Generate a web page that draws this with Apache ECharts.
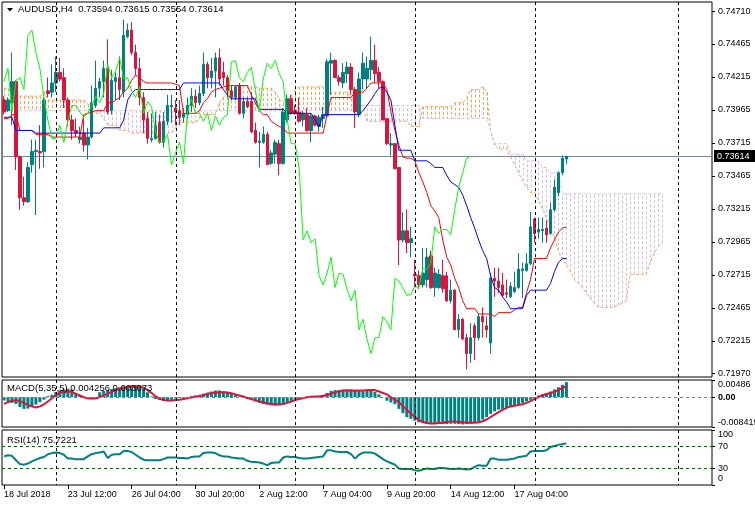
<!DOCTYPE html>
<html><head><meta charset="utf-8">
<script src="https://cdn.jsdelivr.net/npm/echarts@6/dist/echarts.min.js"></script>
<style>html,body{margin:0;padding:0;background:#fff;}#c{width:755px;height:506px;}</style>
</head><body><div id="c"></div>
<script>
const symbolName = 'AUDUSD,H4';
const opens = [
0.7404,0.7396,0.7402,0.7418,0.7361,0.7330,0.7327,0.7355,0.7365,0.7365,
0.7365,0.7411,0.7410,0.7417,0.7425,0.7421,0.7404,0.7389,0.7381,0.7374,
0.7379,0.7370,0.7376,0.7400,0.7413,0.7418,0.7428,0.7396,0.7418,0.7421,
0.7410,0.7452,0.7457,0.7440,0.7428,0.7406,0.7390,0.7374,0.7375,0.7387,
0.7372,0.7388,0.7399,0.7398,0.7396,0.7391,0.7393,0.7400,0.7407,0.7402,
0.7409,0.7431,0.7421,0.7426,0.7436,0.7425,0.7421,0.7411,0.7406,0.7415,
0.7394,0.7403,0.7403,0.7381,0.7372,0.7372,0.7378,0.7356,0.7363,0.7371,
0.7356,0.7389,0.7405,0.7396,0.7395,0.7389,0.7393,0.7381,0.7392,0.7384,
0.7390,0.7392,0.7432,0.7434,0.7421,0.7417,0.7424,0.7429,0.7412,0.7393,
0.7420,0.7420,0.7427,0.7434,0.7425,0.7418,0.7390,0.7370,0.7371,0.7353,
0.7298,0.7305,0.7296,0.7272,0.7271,0.7264,0.7268,0.7286,0.7262,0.7262,
0.7271,0.7271,0.7252,0.7260,0.7230,0.7238,0.7224,0.7212,0.7233,0.7224,
0.7240,0.7233,0.7220,0.7269,0.7267,0.7264,0.7258,0.7255,0.7259,0.7262,
0.7275,0.7275,0.7280,0.7314,0.7304,0.7305,0.7307,0.7303,0.7321,0.7334,
0.7349,0.73594];
const highs = [
0.7407,0.7406,0.7440,0.7419,0.7362,0.7346,0.7357,0.7374,0.7374,0.7385,
0.7406,0.7421,0.7431,0.7437,0.7436,0.7428,0.7406,0.7393,0.7390,0.7384,
0.7390,0.7383,0.7415,0.7434,0.7421,0.7434,0.7450,0.7427,0.7425,0.7437,
0.7465,0.7462,0.7463,0.7446,0.7436,0.7410,0.7395,0.7394,0.7395,0.7393,
0.7395,0.7408,0.7408,0.7404,0.7404,0.7398,0.7406,0.7413,0.7412,0.7415,
0.7440,0.7433,0.7436,0.7440,0.7443,0.7433,0.7423,0.7415,0.7415,0.7417,
0.7406,0.7406,0.7410,0.7387,0.7380,0.7384,0.7380,0.7366,0.7374,0.7374,
0.7398,0.7408,0.7408,0.7400,0.7406,0.7396,0.7398,0.7394,0.7393,0.7393,
0.7399,0.7435,0.7440,0.7435,0.7423,0.7432,0.7433,0.7432,0.7414,0.7425,
0.7440,0.7437,0.7452,0.7446,0.7429,0.7419,0.7390,0.7379,0.7371,0.7353,
0.7319,0.7321,0.7308,0.7283,0.7275,0.7292,0.7292,0.7290,0.7277,0.7276,
0.7283,0.7274,0.7268,0.7261,0.7242,0.7239,0.7227,0.7235,0.7235,0.7242,
0.7247,0.7240,0.7273,0.7277,0.7277,0.7273,0.7268,0.7266,0.7274,0.7288,
0.7281,0.7288,0.7319,0.7315,0.7315,0.7315,0.7313,0.7326,0.7344,0.7350,
0.7362,0.73615];
const lows = [
0.7393,0.7395,0.7385,0.7351,0.7321,0.7324,0.7326,0.7349,0.7317,0.7352,
0.7353,0.7406,0.7406,0.7410,0.7418,0.7398,0.7384,0.7374,0.7376,0.7371,
0.7365,0.7359,0.7375,0.7398,0.7406,0.7406,0.7393,0.7393,0.7404,0.7404,
0.7406,0.7451,0.7438,0.7423,0.7400,0.7379,0.7371,0.7372,0.7374,0.7371,
0.7368,0.7385,0.7387,0.7385,0.7385,0.7387,0.7390,0.7395,0.7398,0.7400,
0.7407,0.7413,0.7413,0.7406,0.7415,0.7415,0.7406,0.7404,0.7404,0.7393,
0.7390,0.7398,0.7379,0.7371,0.7353,0.7371,0.7355,0.7355,0.7356,0.7347,
0.7355,0.7387,0.7393,0.7393,0.7387,0.7384,0.7380,0.7372,0.7384,0.7380,
0.7383,0.7391,0.7408,0.7421,0.7415,0.7413,0.7417,0.7408,0.7383,0.7391,
0.7412,0.7413,0.7419,0.7417,0.7413,0.7389,0.7370,0.7362,0.7352,0.7279,
0.7296,0.7288,0.7285,0.7262,0.7261,0.7262,0.7262,0.7261,0.7255,0.7261,
0.7258,0.7251,0.7250,0.7230,0.7224,0.7222,0.7200,0.7205,0.7207,0.7222,
0.7224,0.7224,0.7212,0.7255,0.7258,0.7255,0.7254,0.7254,0.7258,0.7261,
0.7254,0.7274,0.7279,0.7296,0.7299,0.7296,0.7296,0.7302,0.7320,0.7331,
0.7347,0.73554];
const closes = [
0.7395,0.7404,0.7418,0.7361,0.7330,0.7327,0.7353,0.7365,0.7366,0.7364,
0.7404,0.7409,0.7417,0.7425,0.7420,0.7404,0.7389,0.7381,0.7379,0.7376,
0.7370,0.7376,0.7402,0.7413,0.7418,0.7428,0.7395,0.7419,0.7421,0.7412,
0.7453,0.7457,0.7440,0.7428,0.7406,0.7389,0.7375,0.7375,0.7385,0.7372,
0.7388,0.7400,0.7400,0.7395,0.7391,0.7394,0.7400,0.7407,0.7402,0.7409,
0.7431,0.7421,0.7426,0.7436,0.7420,0.7421,0.7411,0.7406,0.7414,0.7394,
0.7403,0.7399,0.7380,0.7372,0.7373,0.7378,0.7355,0.7364,0.7372,0.7356,
0.7395,0.7405,0.7394,0.7394,0.7388,0.7394,0.7381,0.7392,0.7385,0.7391,
0.7393,0.7433,0.7434,0.7421,0.7418,0.7425,0.7429,0.7412,0.7395,0.7420,
0.7432,0.7428,0.7434,0.7424,0.7418,0.7389,0.7371,0.7371,0.7352,0.7298,
0.7305,0.7296,0.7299,0.7271,0.7264,0.7273,0.7285,0.7262,0.7273,0.7272,
0.7261,0.7252,0.7260,0.7230,0.7238,0.7223,0.7212,0.7224,0.7224,0.7240,
0.7236,0.7230,0.7269,0.7267,0.7262,0.7256,0.7257,0.7263,0.7262,0.7276,
0.7276,0.7280,0.7308,0.7303,0.7306,0.7306,0.7302,0.7321,0.7338,0.7349,
0.7360,0.73614];
const tenkan = [
0.7390,0.7390,0.7393,0.7393,0.7381,0.7381,0.7381,0.7381,0.7378,0.7378,
0.7378,0.7378,0.7376,0.7376,0.7376,0.7376,0.7376,0.7376,0.7376,0.7376,
0.7393,0.7394,0.7395,0.7396,0.7396,0.7396,0.7402,0.7402,0.7404,0.7406,
0.7410,0.7413,0.7419,0.7423,0.7421,0.7418,0.7417,0.7417,0.7417,0.7417,
0.7417,0.7417,0.7417,0.7416,0.7415,0.7394,0.7394,0.7394,0.7394,0.7396,
0.7402,0.7405,0.7410,0.7412,0.7413,0.7414,0.7415,0.7415,0.7415,0.7415,
0.7415,0.7415,0.7408,0.7402,0.7396,0.7393,0.7393,0.7388,0.7386,0.7384,
0.7383,0.7379,0.7379,0.7379,0.7379,0.7379,0.7379,0.7379,0.7379,0.7379,
0.7379,0.7393,0.7406,0.7406,0.7406,0.7406,0.7406,0.7406,0.7410,0.7410,
0.7410,0.7413,0.7417,0.7417,0.7417,0.7417,0.7412,0.7395,0.7381,0.7370,
0.7361,0.7360,0.7360,0.7358,0.7349,0.7342,0.7334,0.7324,0.7320,0.7315,
0.7298,0.7285,0.7279,0.7269,0.7262,0.7252,0.7246,0.7246,0.7246,0.7242,
0.7242,0.7242,0.7242,0.7240,0.7243,0.7243,0.7243,0.7243,0.7245,0.7247,
0.7247,0.7258,0.7268,0.7284,0.7284,0.7284,0.7284,0.7292,0.7298,0.7304,
0.7307,0.7308];
const kijun = [
0.7391,0.7391,0.7391,0.7381,0.7381,0.7381,0.7381,0.7381,0.7379,0.7379,
0.7379,0.7379,0.7379,0.7379,0.7379,0.7379,0.7379,0.7379,0.7379,0.7379,
0.7379,0.7379,0.7379,0.7379,0.7379,0.7383,0.7383,0.7383,0.7383,0.7383,
0.7389,0.7404,0.7409,0.7412,0.7412,0.7412,0.7412,0.7412,0.7412,0.7412,
0.7412,0.7412,0.7412,0.7412,0.7412,0.7417,0.7417,0.7417,0.7417,0.7417,
0.7417,0.7417,0.7417,0.7417,0.7417,0.7412,0.7408,0.7405,0.7405,0.7405,
0.7405,0.7405,0.7405,0.7405,0.7397,0.7397,0.7397,0.7397,0.7397,0.7397,
0.7397,0.7394,0.7394,0.7394,0.7394,0.7394,0.7394,0.7394,0.7389,0.7384,
0.7393,0.7393,0.7393,0.7393,0.7393,0.7393,0.7393,0.7393,0.7393,0.7393,
0.7396,0.7400,0.7404,0.7409,0.7413,0.7414,0.7410,0.7404,0.7385,0.7366,
0.7366,0.7366,0.7366,0.7358,0.7358,0.7358,0.7358,0.7356,0.7353,0.7353,
0.7353,0.7347,0.7342,0.7340,0.7338,0.7332,0.7324,0.7315,0.7307,0.7298,
0.7290,0.7284,0.7271,0.7262,0.7260,0.7255,0.7251,0.7246,0.7246,0.7246,
0.7246,0.7256,0.7260,0.7260,0.7260,0.7260,0.7260,0.7265,0.7274,0.7281,
0.7284,0.7284];
const spanA = [
0.7413,0.7413,0.7407,0.7407,0.7407,0.7407,0.7407,0.7407,0.7407,0.7407,
0.7410,0.7404,0.7404,0.7404,0.7404,0.7404,0.7404,0.7404,0.7404,0.7404,
0.7404,0.7401,0.7396,0.7394,0.7394,0.7390,0.7385,0.7385,0.7385,0.7381,
0.7381,0.7381,0.7379,0.7379,0.7379,0.7379,0.7379,0.7379,0.7379,0.7379,
0.7379,0.7379,0.7379,0.7383,0.7387,0.7387,0.7387,0.7387,0.7387,0.7390,
0.7393,0.7393,0.7393,0.7393,0.7402,0.7406,0.7410,0.7415,0.7415,0.7415,
0.7415,0.7415,0.7414,0.7414,0.7413,0.7413,0.7413,0.7413,0.7410,0.7405,
0.7402,0.7404,0.7407,0.7412,0.7414,0.7414,0.7414,0.7414,0.7414,0.7414,
0.7414,0.7410,0.7410,0.7410,0.7410,0.7410,0.7410,0.7405,0.7405,0.7400,
0.7400,0.7388,0.7388,0.7388,0.7388,0.7388,0.7388,0.7388,0.7388,0.7388,
0.7388,0.7388,0.7384,0.7384,0.7384,0.7399,0.7399,0.7399,0.7399,0.7399,
0.7399,0.7399,0.7399,0.7402,0.7402,0.7402,0.7406,0.7412,0.7412,0.7412,
0.7414,0.7410,0.7381,0.7370,0.7367,0.7367,0.7367,0.7361,0.7355,0.7349,
0.7343,0.7338,0.7334,0.7334,0.7328,0.7322,0.7315,0.7307,0.7299,0.7290,
0.7283,0.7279,0.7274,0.7268,0.7265,0.7262,0.7258,0.7254,0.7250,0.7247,
0.7247,0.7247,0.7247,0.7247,0.7249,0.7250,0.7252,0.7272,0.7272,0.7272,
0.7272,0.7272,0.7281,0.7288,0.7293,0.7296];
const spanB = [
0.7396,0.7396,0.7396,0.7396,0.7396,0.7396,0.7396,0.7396,0.7396,0.7396,
0.7396,0.7396,0.7396,0.7396,0.7396,0.7396,0.7396,0.7396,0.7396,0.7396,
0.7396,0.7396,0.7396,0.7396,0.7396,0.7396,0.7396,0.7396,0.7396,0.7396,
0.7396,0.7396,0.7396,0.7396,0.7396,0.7396,0.7396,0.7396,0.7396,0.7396,
0.7396,0.7396,0.7396,0.7396,0.7396,0.7396,0.7396,0.7396,0.7396,0.7396,
0.7396,0.7396,0.7396,0.7396,0.7396,0.7396,0.7396,0.7396,0.7396,0.7396,
0.7396,0.7396,0.7396,0.7396,0.7396,0.7396,0.7396,0.7396,0.7396,0.7396,
0.7396,0.7396,0.7396,0.7396,0.7396,0.7396,0.7396,0.7396,0.7396,0.7396,
0.7396,0.7396,0.7396,0.7396,0.7396,0.7396,0.7396,0.7396,0.7396,0.7400,
0.7400,0.7400,0.7400,0.7400,0.7400,0.7400,0.7400,0.7400,0.7400,0.7400,
0.7400,0.7400,0.7400,0.7400,0.7400,0.7390,0.7390,0.7390,0.7390,0.7390,
0.7390,0.7390,0.7390,0.7390,0.7390,0.7390,0.7390,0.7390,0.7390,0.7390,
0.7390,0.7390,0.7381,0.7371,0.7371,0.7371,0.7371,0.7363,0.7363,0.7363,
0.7363,0.7358,0.7358,0.7358,0.7358,0.7353,0.7353,0.7349,0.7349,0.7349,
0.7333,0.7333,0.7333,0.7333,0.7333,0.7333,0.7333,0.7333,0.7333,0.7333,
0.7333,0.7333,0.7333,0.7333,0.7333,0.7333,0.7333,0.7333,0.7333,0.7333,
0.7333,0.7333,0.7333,0.7333,0.7333,0.7333];
const chikouShift = 24;
const macdMain = [
-0.0009,-0.0012,-0.0016,-0.0019,-0.0028,-0.0033,-0.0032,-0.0025,-0.0021,-0.0014,
-0.0007,0.0003,0.0007,0.0015,0.0019,0.0022,0.0024,0.0022,0.0010,0.0004,
0.0000,-0.0003,-0.0002,0.0000,0.0014,0.0018,0.0020,0.0023,0.0025,0.0028,
0.0030,0.0032,0.0033,0.0032,0.0030,0.0025,0.0014,0.0002,-0.0005,-0.0008,
-0.0010,-0.0009,-0.0007,-0.0004,-0.0003,-0.0001,0.0001,0.0003,0.0005,0.0007,
0.0010,0.0013,0.0016,0.0019,0.0019,0.0017,0.0015,0.0012,0.0006,0.0002,
-0.0002,-0.0005,-0.0008,-0.0012,-0.0016,-0.0019,-0.0021,-0.0023,-0.0024,-0.0023,
-0.0020,-0.0016,-0.0010,-0.0005,-0.0002,0.0000,0.0001,0.0002,0.0003,0.0004,
0.0006,0.0012,0.0018,0.0020,0.0020,0.0021,0.0022,0.0022,0.0021,0.0020,
0.0020,0.0021,0.0022,0.0015,0.0008,0.0000,-0.0010,-0.0015,-0.0020,-0.0033,
-0.0045,-0.0056,-0.0061,-0.0066,-0.0071,-0.0073,-0.0075,-0.0076,-0.0076,-0.0075,
-0.0076,-0.0076,-0.0075,-0.0075,-0.0076,-0.0077,-0.0076,-0.0075,-0.0073,-0.0069,
-0.0063,-0.0056,-0.0047,-0.0040,-0.0035,-0.0033,-0.0030,-0.0028,-0.0024,-0.0020,
-0.0016,-0.0012,-0.0007,-0.0002,0.0005,0.0009,0.0012,0.0016,0.0022,0.0028,
0.0035,0.004256];
const macdSignal = [
-0.0019,-0.0014,-0.0010,-0.0009,-0.0011,-0.0016,-0.0022,-0.0026,-0.0029,-0.0026,
-0.0020,-0.0012,-0.0003,0.0006,0.0012,0.0016,0.0017,0.0015,0.0010,0.0005,
0.0000,-0.0003,-0.0004,-0.0003,0.0000,0.0005,0.0010,0.0015,0.0020,0.0024,
0.0027,0.0029,0.0030,0.0031,0.0030,0.0027,0.0020,0.0012,0.0002,-0.0004,
-0.0008,-0.0009,-0.0009,-0.0008,-0.0007,-0.0005,-0.0003,-0.0001,0.0001,0.0003,
0.0006,0.0009,0.0012,0.0013,0.0014,0.0014,0.0013,0.0011,0.0008,0.0005,
0.0002,-0.0002,-0.0005,-0.0009,-0.0012,-0.0015,-0.0018,-0.0019,-0.0020,-0.0020,
-0.0019,-0.0016,-0.0012,-0.0008,-0.0005,-0.0002,0.0000,0.0001,0.0002,0.0002,
0.0004,0.0006,0.0010,0.0014,0.0017,0.0019,0.0019,0.0019,0.0018,0.0019,
0.0019,0.0020,0.0020,0.0020,0.0016,0.0012,0.0008,0.0000,-0.0007,-0.0014,
-0.0025,-0.0036,-0.0046,-0.0056,-0.0064,-0.0070,-0.0073,-0.0074,-0.0074,-0.0073,
-0.0072,-0.0070,-0.0069,-0.0069,-0.0070,-0.0071,-0.0072,-0.0072,-0.0072,-0.0071,
-0.0068,-0.0063,-0.0056,-0.0049,-0.0042,-0.0036,-0.0030,-0.0026,-0.0024,-0.0022,
-0.0020,-0.0016,-0.0011,-0.0005,0.0000,0.0005,0.0009,0.0012,0.0015,0.0020,
0.0026,0.003073];
const rsi = [
52,54,53,45,38,37,39,43,46,49,
51,56,58,59,58,55,48,48,47,47,
47,52,56,58,59,61,49,55,56,56,
62,62,60,55,50,46,45,45,45,45,
47,50,50,50,49,49,48,51,52,52,
58,59,59,58,54,52,52,50,49,48,
48,44,42,42,41,39,36,40,41,41,
50,52,51,51,49,48,48,49,50,51,
52,63,63,61,60,60,60,56,48,55,
59,59,59,57,52,47,43,40,37,30,
29,29,29,27,26,28,30,29,29,31,
31,30,29,29,30,29,28,29,33,36,
35,35,48,48,46,46,46,47,48,51,
52,53,61,62,62,62,63,69,71,73,
74,75.7221];
const priceTicks = [0.74710,0.74465,0.74215,0.73965,0.73715,0.73465,0.73215,0.72965,0.72715,0.72465,0.72215,0.71970];
const priceAxisMin = 0.719423, priceAxisMax = 0.747832;
const macdTicks = [0.00486, 0, -0.008419];
const rsiTicks = [100, 70, 30, 0];
const timeLabels = ['18 Jul 2018','23 Jul 12:00','26 Jul 04:00','30 Jul 20:00','2 Aug 12:00','7 Aug 04:00','9 Aug 20:00','14 Aug 12:00','17 Aug 04:00'];
const timeLabelBars = [0,16,32,48,64,80,96,112,128];
const weekStartBars = [13,43,73,103,133,169];
const totalSlots = 178;

const FONT = '"Liberation Sans", Arial, sans-serif';
const panes = [{top: 2, height: 375}, {top: 380, height: 47}, {top: 430, height: 55}];
const nBars = closes.length;
const last = nBars - 1;
const categories = Array.from({length: totalSlots}, (_, i) => String(i));
const candleData = opens.map((o, i) => [o, closes[i], lows[i], highs[i]]);
const cloudData = spanA.map((a, i) => [i, a, spanB[i]]);
const chikou = closes.slice(chikouShift);
const labelMap = {};
timeLabelBars.forEach((b, k) => { labelMap[b] = timeLabels[k]; });
const isLabelBar = (idx) => labelMap[idx] !== undefined;

function xAxisFor(gi, withLabels) {
  const ax = {type: 'category', gridIndex: gi, data: categories, boundaryGap: true,
    axisLine: {show: false}, splitLine: {show: false},
    axisTick: {show: false}, axisLabel: {show: false}};
  if (withLabels) {
    ax.axisTick = {show: true, interval: (i) => isLabelBar(i), alignWithLabel: true, length: 4, lineStyle: {color: '#000'}};
    ax.axisLabel = {show: true, interval: (i) => isLabelBar(i), formatter: (v, i) => labelMap[i] || '',
      align: 'left', margin: 5, fontSize: 9, color: '#000', fontFamily: FONT};
  }
  return ax;
}
const ylab = {fontSize: 9, color: '#000', fontFamily: FONT, margin: 6};
const richLabels = {
  b: {padding: [0, 0, 2, 0], fontSize: 9, fontFamily: FONT, color: '#000'},
  z: {fontWeight: 'bold', fontSize: 9, fontFamily: FONT, color: '#000'}
};
function indicatorLabel(ticks, zeroBold) {
  return function (v) {
    if (v === 0 && v === ticks[ticks.length - 1]) return '{b|0}';
    if (v === 0 && zeroBold) return '{z|0.00}';
    return String(v);
  };
}

const option = {
  animation: false,
  backgroundColor: '#fff',
  title: [
    {text: symbolName + '  ' + [opens[last], highs[last], lows[last], closes[last]].map(v => v.toFixed(5)).join(' '),
     left: 18, top: 4, padding: 0, textStyle: {fontSize: 9.5, fontWeight: 'normal', color: '#000', fontFamily: FONT}},
    {text: 'MACD(5,35,5) ' + macdMain[last].toFixed(6) + ' ' + macdSignal[last].toFixed(6),
     left: 7, top: 383, padding: 0, textStyle: {fontSize: 9.5, fontWeight: 'normal', color: '#000', fontFamily: FONT}},
    {text: 'RSI(14) ' + rsi[last].toFixed(4),
     left: 7, top: 435, padding: 0, textStyle: {fontSize: 9.5, fontWeight: 'normal', color: '#000', fontFamily: FONT}}
  ],
  graphic: [{type: 'polygon', shape: {points: [[7, 8], [13, 8], [10, 11.5]]}, style: {fill: '#000'}}],
  grid: panes.map(p => ({left: 2, top: p.top, width: 710, height: p.height, show: true, containLabel: false,
    outerBoundsMode: 'none', borderColor: '#000', borderWidth: 1, backgroundColor: 'transparent'})),
  xAxis: [xAxisFor(0, false), xAxisFor(1, false), xAxisFor(2, true)],
  yAxis: [
    {type: 'value', gridIndex: 0, position: 'right', min: priceAxisMin, max: priceAxisMax,
     axisLine: {show: false}, splitLine: {show: false},
     axisTick: {show: true, length: 3, customValues: priceTicks, lineStyle: {color: '#000'}},
     axisLabel: Object.assign({customValues: priceTicks, formatter: v => v.toFixed(5)}, ylab)},
    {type: 'value', gridIndex: 1, position: 'right', min: macdTicks[2], max: macdTicks[0],
     axisLine: {show: false}, splitLine: {show: false},
     axisTick: {show: true, length: 3, customValues: macdTicks, lineStyle: {color: '#000'}},
     axisLabel: Object.assign({customValues: macdTicks, verticalAlignMaxLabel: 'bottom', verticalAlignMinLabel: 'top',
       formatter: indicatorLabel(macdTicks, true), rich: richLabels}, ylab)},
    {type: 'value', gridIndex: 2, position: 'right', min: 0, max: 100,
     axisLine: {show: false}, splitLine: {show: false},
     axisTick: {show: true, length: 3, customValues: rsiTicks, lineStyle: {color: '#000'}},
     axisLabel: Object.assign({customValues: rsiTicks, verticalAlignMaxLabel: 'bottom', verticalAlignMinLabel: 'top',
       formatter: indicatorLabel(rsiTicks, false), rich: richLabels}, ylab)}
  ],
  series: [
    {type: 'custom', name: 'kumo', xAxisIndex: 0, yAxisIndex: 0, z: 1, silent: true,
     data: cloudData, encode: {x: 0, y: [1, 2]},
     renderItem: function (params, api) {
       const i = api.value(0), a = api.value(1), b = api.value(2);
       const p1 = api.coord([i, a]), p2 = api.coord([i, b]);
       const x = Math.round(p1[0]) + 0.5;
       return {type: 'line', shape: {x1: x, y1: p1[1], x2: x, y2: p2[1]},
         style: {stroke: a > b ? '#F4A460' : '#D8BFD8', lineWidth: 1, lineDash: [3, 2]}};
     }},
    {type: 'line', name: 'Senkou A', xAxisIndex: 0, yAxisIndex: 0, z: 2, data: spanA, symbol: 'none', silent: true,
     lineStyle: {color: '#F4A460', width: 1, type: [3, 2]}},
    {type: 'line', name: 'Senkou B', xAxisIndex: 0, yAxisIndex: 0, z: 2, data: spanB, symbol: 'none', silent: true,
     lineStyle: {color: '#D8BFD8', width: 1, type: [3, 2]}},
    {type: 'custom', name: 'Bid line', xAxisIndex: 0, yAxisIndex: 0, z: 2, silent: true, clip: false,
     data: [[last, closes[last]]], encode: {x: 0, y: 1},
     renderItem: function (params, api) {
       const cs = params.coordSys;
       const y = Math.round(api.coord([api.value(0), api.value(1)])[1]) + 0.5;
       const xr = cs.x + cs.width;
       return {type: 'group', children: [
         {type: 'line', shape: {x1: cs.x, y1: y, x2: xr, y2: y}, style: {stroke: '#778899', lineWidth: 1}},
         {type: 'rect', shape: {x: xr + 2, y: y - 6.5, width: 41, height: 12}, style: {fill: '#000'}},
         {type: 'text', style: {x: xr + 5, y: y, text: api.value(1).toFixed(5), fill: '#fff',
           font: '9px "Liberation Sans", Arial, sans-serif', align: 'left', verticalAlign: 'middle'}}
       ]};
     }},
    {type: 'candlestick', name: 'AUDUSD', xAxisIndex: 0, yAxisIndex: 0, z: 3, data: candleData, barWidth: 3,
     itemStyle: {color: '#008080', color0: '#DC143C', borderColor: '#008080', borderColor0: '#DC143C', borderWidth: 1}},
    {type: 'line', name: 'Tenkan', xAxisIndex: 0, yAxisIndex: 0, z: 4, data: tenkan, symbol: 'none', silent: true,
     lineStyle: {color: '#FF0000', width: 1}},
    {type: 'line', name: 'Kijun', xAxisIndex: 0, yAxisIndex: 0, z: 4, data: kijun, symbol: 'none', silent: true,
     lineStyle: {color: '#0000FF', width: 1}},
    {type: 'line', name: 'Chikou', xAxisIndex: 0, yAxisIndex: 0, z: 4, data: chikou, symbol: 'none', silent: true,
     lineStyle: {color: '#00FF00', width: 1}},
    {type: 'custom', name: 'week separators', xAxisIndex: 0, yAxisIndex: 0, z: 5, silent: true, clip: false,
     data: weekStartBars.map(b => [b, priceAxisMin]), encode: {x: 0, y: 1},
     renderItem: function (params, api) {
       const p = api.coord([api.value(0), api.value(1)]);
       const x = Math.round(p[0]) + 0.5;
       return {type: 'group', children: panes.map(pn => ({type: 'line',
         shape: {x1: x, y1: pn.top, x2: x, y2: pn.top + pn.height},
         style: {stroke: '#000', lineWidth: 1, lineDash: [3, 3]}}))};
     }},
    {type: 'bar', name: 'MACD', xAxisIndex: 1, yAxisIndex: 1, data: macdMain, barWidth: 3, silent: true,
     itemStyle: {color: '#008080'},
     markLine: {silent: true, symbol: ['none', 'none'], animation: false, label: {show: false},
       lineStyle: {color: '#808080', type: [3, 3], width: 1}, data: [{yAxis: 0}]}},
    {type: 'line', name: 'Signal', xAxisIndex: 1, yAxisIndex: 1, data: macdSignal, symbol: 'none', silent: true, z: 3,
     lineStyle: {color: '#DC143C', width: 2}},
    {type: 'line', name: 'RSI', xAxisIndex: 2, yAxisIndex: 2, data: rsi, symbol: 'none', silent: true,
     lineStyle: {color: '#008080', width: 2},
     markLine: {silent: true, symbol: ['none', 'none'], animation: false, label: {show: false},
       lineStyle: {color: '#006400', type: [3, 3], width: 1}, data: [{yAxis: 70}, {yAxis: 30}]}}
  ]
};
const chart = echarts.init(document.getElementById('c'));
chart.setOption(option);
</script>
</body></html>
